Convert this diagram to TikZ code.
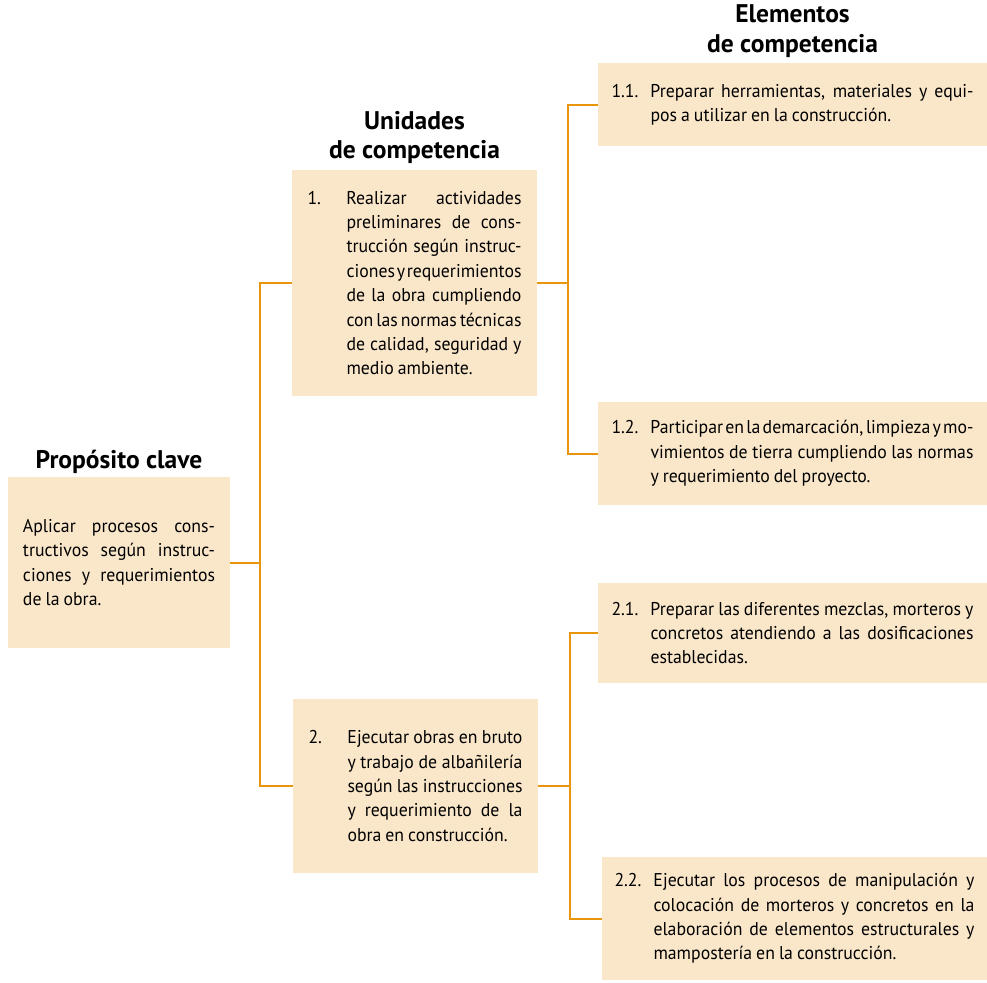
\documentclass[tikz,border=0pt]{standalone}
\usepackage{fontspec}
\setmainfont{PT Sans}
\newfontfamily\cajafont[FakeStretch=0.96,WordSpace={0.85,1,3}]{PT Sans}
\usepackage{tikz}
\usetikzlibrary{positioning}
\definecolor{crema}{HTML}{FAE7CA}
\definecolor{naranja}{HTML}{E8950C}
\tikzstyle{linea}=[
	-,
	draw=naranja,
	line width=2pt
]
\tikzstyle{caja}=[
    fill=crema,
    inner xsep=0pt,
    align=justify,
    font=\cajafont\fontsize{18.5}{24.4}\selectfont
]
\tikzstyle{titulo}=[
    inner sep=0pt,
    align=center,
    font=\bfseries\fontsize{25.5}{29.5}\selectfont
]
\newcommand{\punto}[2]{\makebox[39pt][l]{#1}\parbox[t]{\dimexpr\linewidth-39pt\relax}{#2}}

\begin{document}
\begin{tikzpicture}[x=1pt,y=-1pt]
\useasboundingbox (0,0) rectangle (987,982);
\hyphenpenalty=10000

\node[caja, text width=192pt, minimum width=222pt, minimum height=171pt] (prop) at (119,562.5)
    {Aplicar procesos cons-\linebreak tructivos según instruc-\linebreak ciones y requerimientos\linebreak de la obra.};
\node[caja, text width=214pt, minimum width=245pt, minimum height=226pt] (1) at (414.5,283)
    {\punto{1.}{Realizar actividades\linebreak preliminares de cons-\linebreak trucción según instruc-\linebreak ciones y requerimientos\linebreak de la obra cumpliendo\linebreak con las normas técnicas\linebreak de calidad, seguridad y\linebreak medio ambiente.}};
\node[caja, text width=214pt, minimum width=245pt, minimum height=174pt] (2) at (415.5,786)
    {\punto{2.}{Ejecutar obras en bruto\linebreak y trabajo de albañilería\linebreak según las instrucciones\linebreak y requerimiento de la\linebreak obra en construcción.}};
\node[caja, text width=362pt, minimum width=389pt, minimum height=83pt] (11) at (792.5,104.5)
    {\punto{1.1.}{Preparar herramientas, materiales y equi-\linebreak pos a utilizar en la construcción.}};
\node[caja, text width=362pt, minimum width=389pt, minimum height=103pt] (12) at (792.5,453.5)
    {\punto{1.2.}{Participar en la demarcación, limpieza y mo-\linebreak vimientos de tierra cumpliendo las normas\linebreak y requerimiento del proyecto.}};
\node[caja, text width=362pt, minimum width=389pt, minimum height=100pt] (21) at (792.5,633)
    {\punto{2.1.}{Preparar las diferentes mezclas, morteros y\linebreak concretos atendiendo a las dosificaciones\linebreak establecidas.}};
\node[caja, text width=360pt, minimum width=385pt, minimum height=123pt] (22) at (794.5,918.5)
    {\punto{2.2.}{Ejecutar los procesos de manipulación y\linebreak colocación de morteros y concretos en la\linebreak elaboración de elementos estructurales y\linebreak mampostería en la construcción.}};

\node[titulo, above=3pt of prop] (tprop) {Propósito clave};
\node[titulo, above=6pt of 1] (tunid) {Unidades\\de competencia};
\node[titulo, above=5pt of 11] (telem) {Elementos\\de competencia};

\draw[linea] (prop.east) -- ++(30,0);
\draw[linea] (1.west) -- ++(-32,0) |- (2.west);
\draw[linea] (1.east) -- ++(31,0);
\draw[linea] (11.west) -- ++(-30,0) |- (12.west);
\draw[linea] (2.east) -- ++(32,0);
\draw[linea] (21.west) -- ++(-28,0) |- (22.west);

\end{tikzpicture}
\end{document}
